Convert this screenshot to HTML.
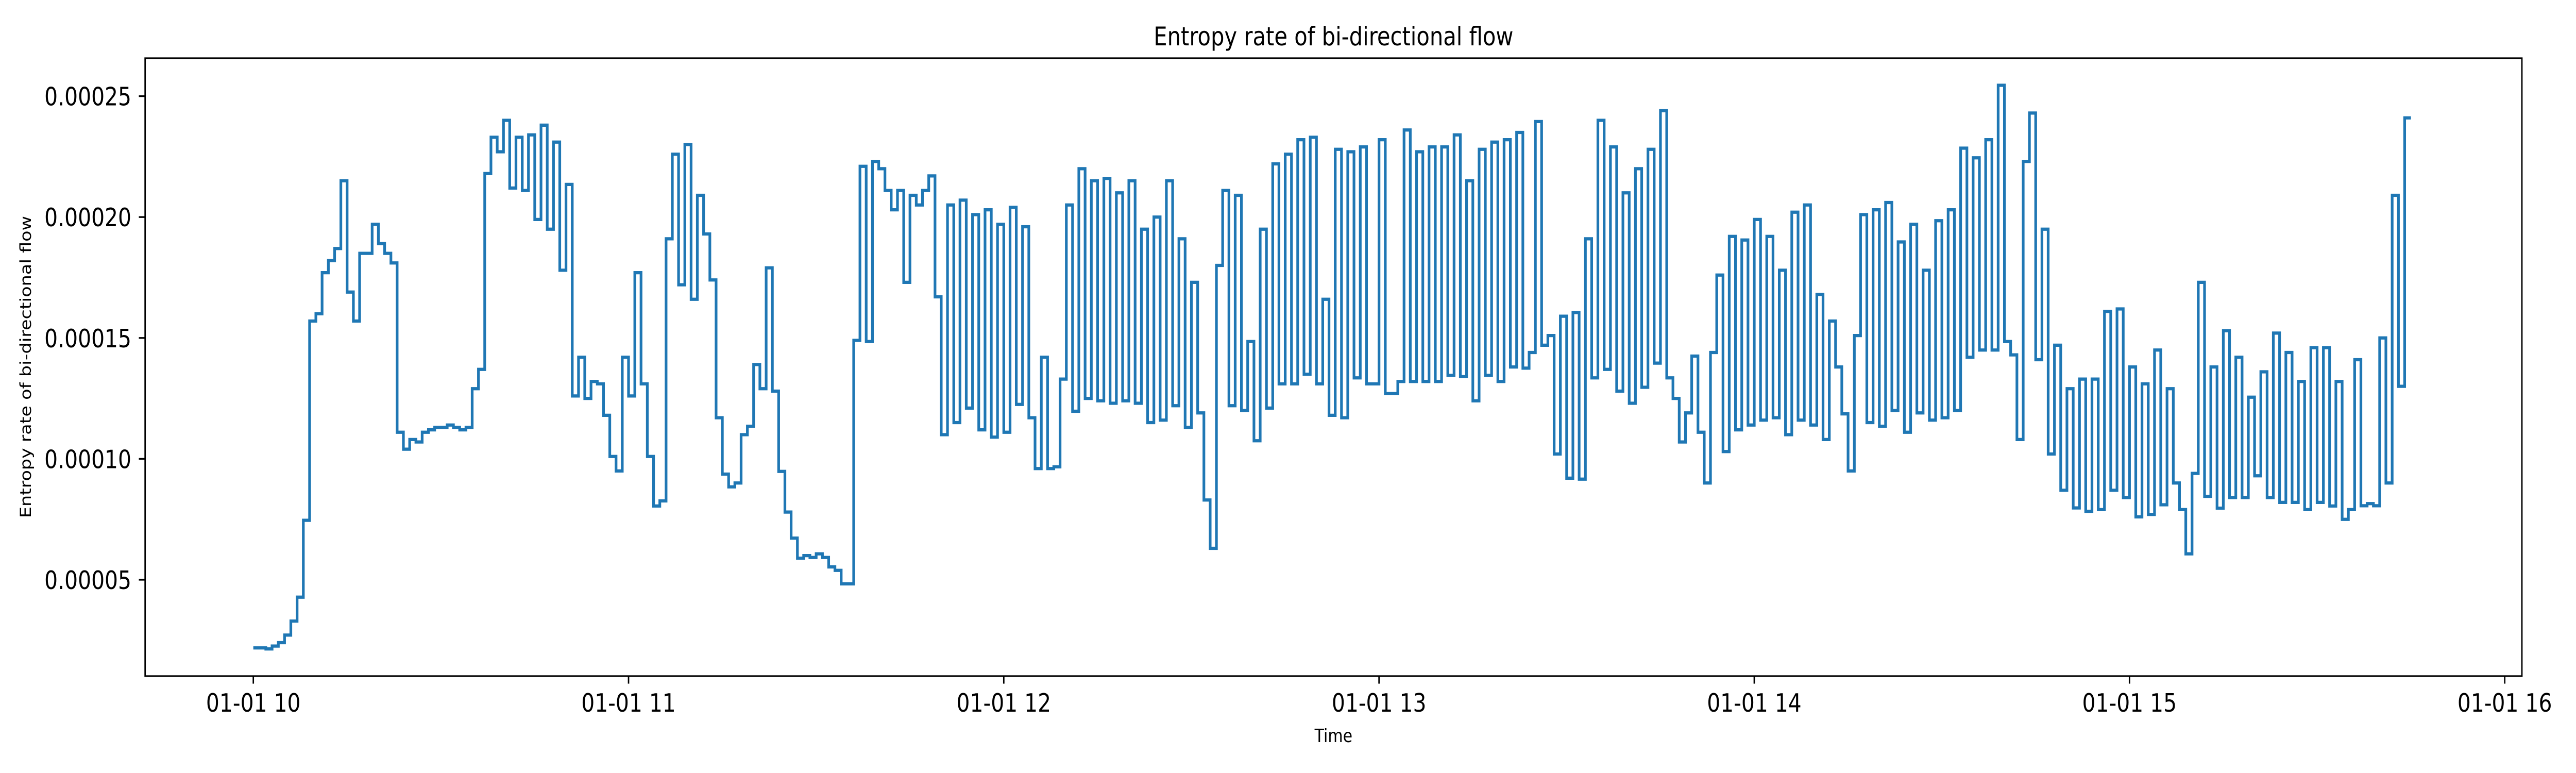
<!DOCTYPE html>
<html><head><meta charset="utf-8"><style>
html,body{margin:0;padding:0;background:#fff;overflow:hidden;width:100%;height:100%;}
svg{display:block;width:100vw;height:100vh;}
text{font-family:"DejaVu Sans","Liberation Sans",sans-serif;fill:#000;}
</style></head>
<body>
<svg id="chart" viewBox="0 0 6000 1500" preserveAspectRatio="none" xmlns="http://www.w3.org/2000/svg">
<rect x="0" y="0" width="6000" height="1500" fill="#fff"/>
<text x="3106" y="88" font-size="50" text-anchor="middle">Entropy rate of bi-directional flow</text>
<text x="3106" y="1440" font-size="36" text-anchor="middle">Time</text>
<text x="0" y="0" font-size="35" text-anchor="middle" transform="translate(72,712) rotate(-90)">Entropy rate of bi-directional flow</text>
<g id="ticks"></g>
<path id="series" fill="none" stroke="#1f77b4" stroke-width="6.25" stroke-linejoin="miter" d=""/>
<rect x="338" y="113" width="5536" height="1199" fill="none" stroke="#000" stroke-width="3.3"/>
</svg>
<script>
// values in units of 1e-5, one per minute starting 10:00
const valuesE5 = [2.18,2.18,2.14,2.26,2.4,2.71,3.29,4.28,7.46,15.7,16.0,17.7,18.2,18.7,21.5,16.9,15.7,18.5,18.5,19.7,18.9,18.5,18.1,11.1,10.4,10.8,10.7,11.1,11.2,11.3,11.3,11.4,11.3,11.2,11.3,12.9,13.7,21.8,23.3,22.7,24.0,21.2,23.3,21.1,23.4,19.9,23.8,19.5,23.1,
17.8,21.35,12.6,14.2,12.5,13.2,13.1,11.8,10.1,9.5,14.2,12.6,17.7,13.1,10.1,8.05,8.26,19.1,22.6,17.2,23.0,16.6,20.9,19.3,17.4,11.7,9.37,8.84,9.0,11.0,11.35,13.9,12.9,17.9,12.8,9.48,7.8,6.72,5.89,6.0,5.92,6.07,5.92,5.53,5.39,4.83,4.83,14.9,22.1,14.85,22.3,22.0,21.1,20.3,21.1,17.3,20.9,20.5,
21.1,21.7,16.7,11.0,20.5,11.5,20.7,12.1,20.1,11.2,20.3,10.9,19.7,11.1,20.4,12.25,19.6,11.7,9.6,14.2,9.6,9.67,13.3,20.5,11.97,22.0,12.5,21.5,12.4,21.6,12.3,21.0,12.4,21.5,12.3,19.5,11.5,20.0,11.6,21.5,12.2,19.1,11.3,17.3,11.9,8.3,6.3,18.0,
21.1,12.2,20.9,12.0,14.85,10.75,19.5,12.1,22.2,13.1,22.6,13.1,23.2,13.5,23.3,13.1,16.6,11.8,22.8,11.7,22.7,13.35,22.9,13.1,13.1,23.2,12.7,12.7,13.2,23.6,13.2,22.7,13.2,22.9,13.2,22.9,13.45,23.4,13.4,21.5,12.4,22.8,13.45,23.1,13.2,23.2,13.8,23.5,
13.75,14.4,23.95,14.7,15.1,10.2,15.9,9.2,16.05,9.16,19.1,13.35,24.0,13.7,22.9,12.8,21.0,12.3,22.0,12.96,22.8,13.96,24.4,13.35,12.5,10.7,11.9,14.25,11.1,9.0,14.4,17.6,10.3,19.2,11.2,19.05,11.4,19.9,11.6,19.2,11.7,17.8,11.0,20.2,11.6,20.5,11.4,16.8,
10.8,15.7,13.8,11.86,9.5,15.1,20.1,11.5,20.3,11.35,20.6,12.0,18.97,11.1,19.7,11.9,17.8,11.6,19.85,11.7,20.3,12.0,22.85,14.2,22.45,14.5,23.2,14.5,25.45,14.85,14.3,10.8,22.3,24.3,14.1,19.5,10.2,14.7,8.7,12.9,7.97,13.3,7.83,13.3,7.9,16.1,8.7,16.2,
8.4,13.8,7.6,13.1,7.7,14.5,8.1,12.9,9.0,7.9,6.07,9.4,17.3,8.45,13.8,7.96,15.3,8.4,14.2,8.4,12.55,9.3,13.6,8.4,15.2,8.2,14.4,8.2,13.2,7.9,14.6,8.2,14.6,8.05,13.2,7.5,7.9,14.1,8.06,8.15,8.06,15.0,9.0,20.9,13.0,24.1];
const startMinute = 0; // minutes after 10:00
const yTickValues = [0.00005, 0.0001, 0.00015, 0.0002, 0.00025];
const yTickLabels = ["0.00005", "0.00010", "0.00015", "0.00020", "0.00025"];
const xTickHours = [10, 11, 12, 13, 14, 15, 16];
const xTickLabels = ["01-01 10", "01-01 11", "01-01 12", "01-01 13", "01-01 14", "01-01 15", "01-01 16"];

const NS = "http://www.w3.org/2000/svg";
function xOfHour(h){ return 590 + (h - 10) * 874; }
function xOfMinute(m){ return xOfHour(10 + m / 60); }
function yOf(v){ return 1125 - (v - 0.00005) / 0.00005 * 234.6; }

const ticks = document.getElementById('ticks');
yTickValues.forEach((v, i) => {
  const y = yOf(v);
  const t = document.createElementNS(NS, 'line');
  t.setAttribute('x1', 338); t.setAttribute('x2', 323.4);
  t.setAttribute('y1', y); t.setAttribute('y2', y);
  t.setAttribute('stroke', '#000'); t.setAttribute('stroke-width', '3.3');
  
  
  ticks.appendChild(t);
  const l = document.createElementNS(NS, 'text');
  l.setAttribute('x', 306); l.setAttribute('y', y + 18);
  l.setAttribute('font-size', '49'); l.setAttribute('text-anchor', 'end');
  l.textContent = yTickLabels[i];
  
  
  ticks.appendChild(l);
});
xTickHours.forEach((h, i) => {
  const x = xOfHour(h);
  const t = document.createElementNS(NS, 'line');
  t.setAttribute('x1', x); t.setAttribute('x2', x);
  t.setAttribute('y1', 1312); t.setAttribute('y2', 1326.6);
  t.setAttribute('stroke', '#000'); t.setAttribute('stroke-width', '3.3');
  
  
  ticks.appendChild(t);
  const l = document.createElementNS(NS, 'text');
  l.setAttribute('x', x); l.setAttribute('y', 1381);
  l.setAttribute('font-size', '49'); l.setAttribute('text-anchor', 'middle');
  l.textContent = xTickLabels[i];
  
  
  ticks.appendChild(l);
});

let d = '';
valuesE5.forEach((ve5, i) => {
  const v = ve5 * 1e-5;
  const x0 = xOfMinute(startMinute + i), x1 = xOfMinute(startMinute + i + 1);
  const y = yOf(v);
  d += (i === 0 ? 'M' : 'L') + x0.toFixed(1) + ',' + y.toFixed(1) + 'L' + x1.toFixed(1) + ',' + y.toFixed(1);
});
document.getElementById('series').setAttribute('d', d);
</script>
</body></html>
